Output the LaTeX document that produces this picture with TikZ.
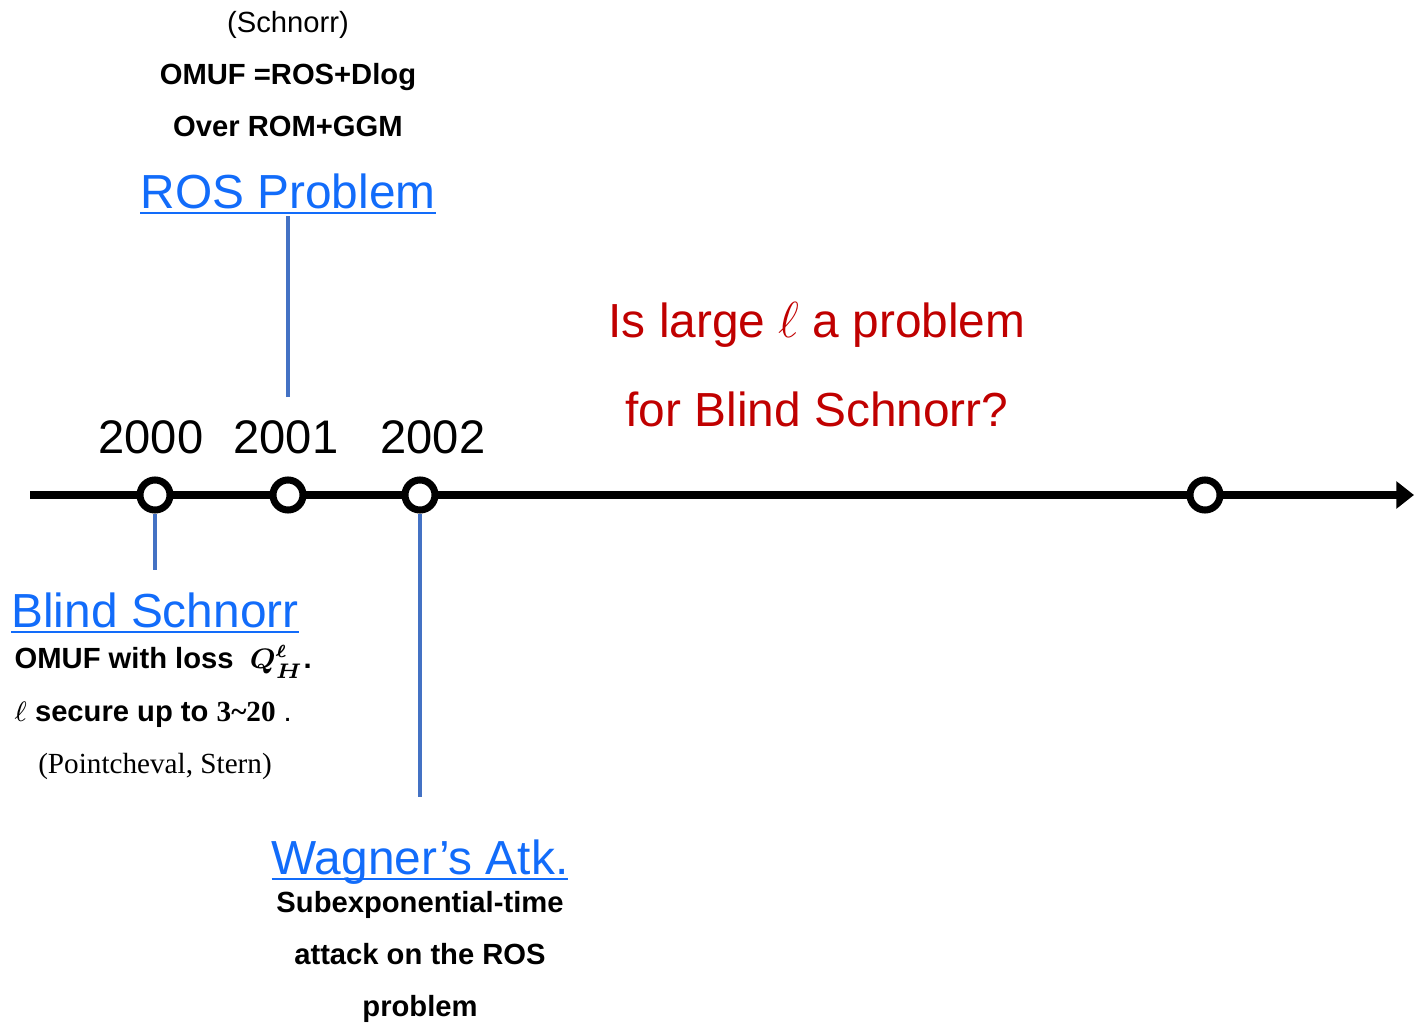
\documentclass[tikz,border=0pt]{standalone}
\usepackage{fontspec}
\setmainfont{Liberation Sans}
\newfontfamily\timesfont{Liberation Serif}
\usetikzlibrary{arrows.meta,positioning}

\definecolor{linkblue}{RGB}{18,108,250}
\definecolor{stemblue}{RGB}{68,114,196}
\definecolor{darkred}{RGB}{192,0,0}

\newcommand{\linktext}[1]{\underline{\smash{#1}}}

\begin{document}
\begin{tikzpicture}[
        x=0.01cm, y=-0.01cm,
        every node/.style={inner sep=0pt, align=center},
        milestone/.style={draw=black, fill=white, circle, line width=2pt, minimum size=0.3cm},
        year/.style={anchor=base, font=\fontsize{13.4}{16}\selectfont},
        title/.style={anchor=base, text=linkblue, font=\fontsize{13.6}{16}\selectfont},
        note/.style={font=\bfseries\fontsize{8.3}{14.8}\selectfont},
        stem/.style={draw=stemblue, line width=1.2pt},
        question/.style={text=darkred, font=\fontsize{13.6}{25.3}\selectfont}
    ]
    \useasboundingbox (0,0) rectangle (1414,1024);

    % Axis
    \coordinate (axisstart) at (30,495);
    \coordinate (axisend) at (1414,495);
    \draw[line width=2pt, -{Triangle[length=5pt,width=7.5pt]}] (axisstart) -- (axisend);

    % Nodes
    \node[milestone] (m2000) at (155,495) {};
    \node[milestone] (m2001) at (288,495) {};
    \node[milestone] (m2002) at (420,495) {};
    \node[milestone] (mnext) at (1205,495) {};

    \node[year] (y2000) at (151,453) {2000};
    \node[year] (y2001) at (286,453) {2001};
    \node[year] (y2002) at (433,453) {2002};

    \node[title] (ros) at (288,208) {\linktext{ROS Problem}};
    \node[note] (rosnote) at (288,74) {\mdseries(Schnorr)\\OMUF =ROS+Dlog\\Over ROM+GGM};
    \coordinate (rosfoot) at (288,397);

    \node[title] (blind) at (155,627) {\linktext{Blind Schnorr}};
    \node[note, anchor=base west] (blindloss) at (14,668) {OMUF with loss\ \ {\boldmath$Q^{\scriptscriptstyle\ell}_{H}$}.};
    \node[note, anchor=base west] (blindsec) at (14,721) {$\ell$ secure up to {\timesfont 3\textasciitilde20}\mdseries\ .};
    \node[anchor=base, font=\timesfont\fontsize{8.3}{10}\selectfont] (blindauth) at (155,773) {(Pointcheval, Stern)};
    \coordinate (blindtop) at (155,570);

    \node[title] (wagner) at (420,874) {\linktext{Wagner’s Atk.}};
    \node[note] (wagnote) at (420,957) {Subexponential-time\\attack on the ROS\\problem};
    \coordinate (wagtop) at (420,797);

    \node[question] (ask) at (817,365) {Is large $\ell$ a problem\\for Blind Schnorr?};

    % Edges
    \draw[stem] (m2000) -- (blindtop);
    \draw[stem] (rosfoot) -- (ros);
    \draw[stem] (m2002) -- (wagtop);

\end{tikzpicture}
\end{document}
